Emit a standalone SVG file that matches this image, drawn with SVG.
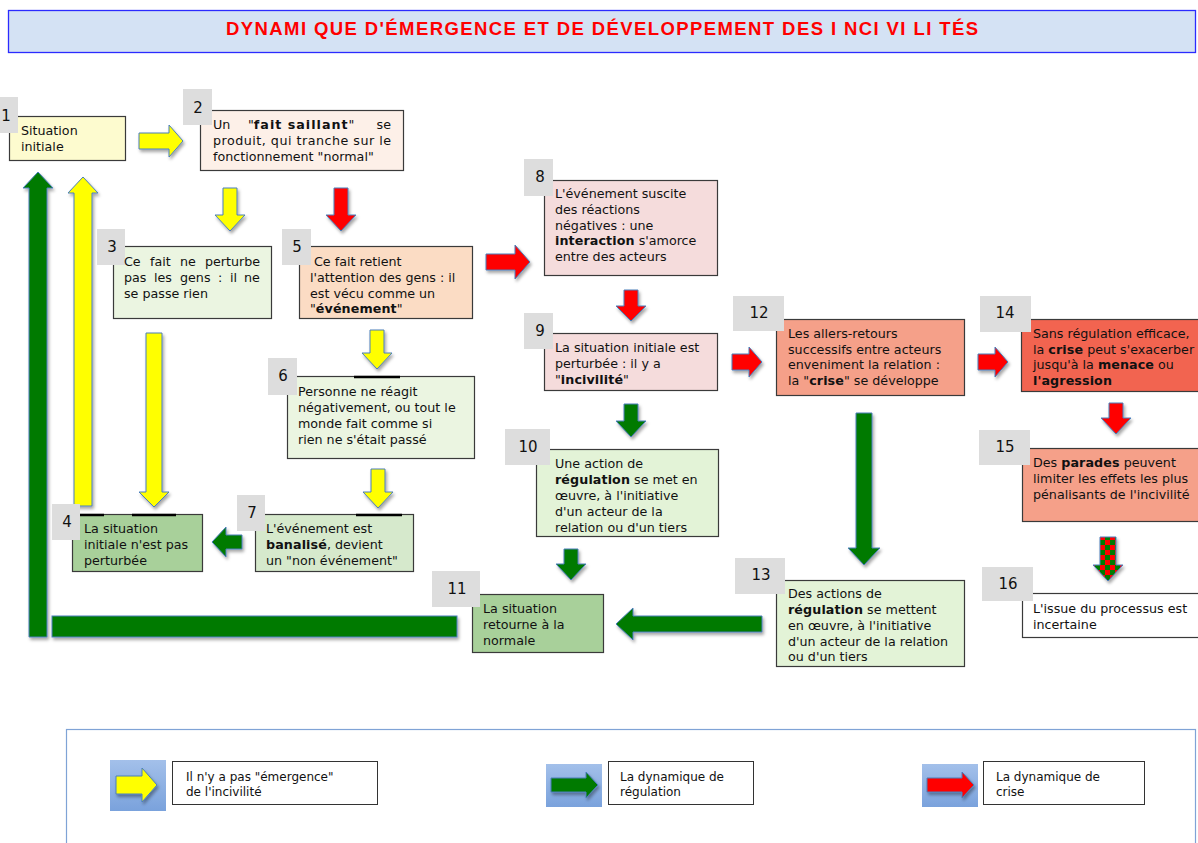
<svg xmlns="http://www.w3.org/2000/svg" width="1198" height="843" viewBox="0 0 1198 843">
<defs>
<style>
.t{font-family:"DejaVu Sans",Verdana,sans-serif;font-size:12.7px;fill:#111}
.b{font-weight:bold;letter-spacing:0.1px}
.num{font-family:"DejaVu Sans",Verdana,sans-serif;font-size:15px;fill:#111;text-anchor:middle}
.box{stroke:#3a3a3a;stroke-width:1.2}
.badge{fill:#dddddd}
.ar{stroke:#4a7ebb;stroke-width:1;filter:url(#sh)}
.y{fill:#ffff00}
.r{fill:#ff0000}
.g{fill:#007a00}
.lg{font-family:"DejaVu Sans",Verdana,sans-serif;font-size:12px;fill:#111}
</style>
<filter id="sh" x="-30%" y="-30%" width="160%" height="160%">
<feDropShadow dx="1.5" dy="2.5" stdDeviation="1.5" flood-color="#000" flood-opacity="0.35"/>
</filter>
<pattern id="chk" width="10" height="10" patternUnits="userSpaceOnUse">
<rect width="10" height="10" fill="#ff0000"/>
<rect width="5" height="5" fill="#007a00"/>
<rect x="5" y="5" width="5" height="5" fill="#007a00"/>
</pattern>
<linearGradient id="ico" x1="0" y1="0" x2="0" y2="1">
<stop offset="0" stop-color="#a3c0ea"/>
<stop offset="1" stop-color="#7aa2dc"/>
</linearGradient>
</defs>
<rect width="1198" height="843" fill="#ffffff"/>

<g id="title">
<rect x="8.5" y="10.5" width="1187" height="42" fill="#d4e2f4" stroke="#2b2bff" stroke-width="1.3"/>
<text x="226" y="35" textLength="752" lengthAdjust="spacing" style="font-family:'Liberation Sans',Arial,sans-serif;font-size:18.5px;font-weight:bold;fill:#ff0000">DYNAMI QUE D'ÉMERGENCE ET DE DÉVELOPPEMENT DES I NCI VI LI TÉS</text>
</g>

<g id="connectors">
<polygon class="ar y" points="139,133 169,133 169,125 183,141 169,157 169,149 139,149"/>
<polygon class="ar y" points="223,188 237,188 237,215 245,215 230,231 215,215 223,215"/>
<polygon class="ar r" points="334,188 348,188 348,215 356,215 341,231 326,215 334,215"/>
<polygon class="ar r" points="486,254 515,254 515,245 530,262 515,279 515,270 486,270"/>
<polygon class="ar y" points="370,330 384,330 384,353 392,353 377,369 362,353 370,353"/>
<polygon class="ar y" points="371,469 385,469 385,492 393,492 378,508 363,492 371,492"/>
<polygon class="ar r" points="624,290 638,290 638,306 646,306 631,321 616,306 624,306"/>
<polygon class="ar g" points="624,404 638,404 638,421 646,421 631,437 616,421 624,421"/>
<polygon class="ar g" points="564,549 578,549 578,564 586,564 571,580 556,564 564,564"/>
<polygon class="ar r" points="732,354 749,354 749,347 762,362 749,377 749,370 732,370"/>
<polygon class="ar r" points="978,354 995,354 995,347 1008,362 995,377 995,370 978,370"/>
<polygon class="ar r" points="1109,403 1123,403 1123,418 1131,418 1116,434 1101,418 1109,418"/>
<polygon class="ar" fill="url(#chk)" points="1100,537 1116,537 1116,565 1123,565 1108,581 1093,565 1100,565"/>
<polygon class="ar g" points="856,413 872,413 872,548 880,548 864,565 848,548 856,548"/>
<polygon class="ar g" points="616,624 633,608 633,616 762,616 762,632 633,632 633,640"/>
<polygon class="ar y" points="146,333 162,333 162,492 169,492 154,507 139,492 146,492"/>
<polygon class="ar g" points="212,542 226,527 226,535 242,535 242,549 226,549 226,557"/>
<polygon class="ar y" points="83,177 98,193 92,193 92,506 74,506 74,193 68,193"/>
<polygon class="ar g" points="38,172 53,188 47,188 47,637 29,637 29,188 23,188"/>
<rect class="ar g" x="52" y="616" width="405" height="21"/>
</g>

<g id="n1">
<rect class="box" x="9.5" y="116.5" width="116" height="44" fill="#fdfbcf"/>
<rect class="badge" x="0" y="97" width="18" height="36"/>
<text class="num" x="6" y="121">1</text>
<text class="t" x="21" y="135">Situation</text>
<text class="t" x="21" y="151">initiale</text>
</g>

<g id="n2">
<rect class="box" x="200.5" y="110.5" width="203" height="60" fill="#fdf0e8"/>
<rect class="badge" x="183" y="89" width="29" height="36"/>
<text class="num" x="198" y="113">2</text>
<text class="t" x="213" y="129">Un</text>
<text class="t" x="248" y="129">"<tspan class="b" style="letter-spacing:1px">fait saillant</tspan>"</text>
<text class="t" x="391" y="129" text-anchor="end">se</text>
<text class="t" x="213" y="145" textLength="178" lengthAdjust="spacing">produit, qui tranche sur le</text>
<text class="t" x="213" y="161">fonctionnement "normal"</text>
</g>

<g id="n3">
<rect class="box" x="113.5" y="246.5" width="158" height="72" fill="#ebf5e1"/>
<rect class="badge" x="97" y="229" width="28" height="36"/>
<text class="num" x="112" y="252">3</text>
<text class="t" y="266"><tspan x="124">Ce</tspan> <tspan x="150">fait</tspan> <tspan x="180">ne</tspan> <tspan x="205">perturbe</tspan></text>
<text class="t" y="282"><tspan x="124">pas</tspan> <tspan x="154">les</tspan> <tspan x="180">gens</tspan> <tspan x="218">:</tspan> <tspan x="230">il</tspan> <tspan x="244">ne</tspan></text>
<text class="t" x="124" y="298">se passe rien</text>
</g>

<g id="n5">
<rect class="box" x="299.5" y="246.5" width="173" height="72" fill="#fbdcc4"/>
<rect class="badge" x="282" y="229" width="29" height="36"/>
<text class="num" x="297" y="252">5</text>
<text class="t" x="314" y="266">Ce fait retient</text>
<text class="t" x="310" y="282">l'attention des gens : il</text>
<text class="t" x="310" y="298">est vécu comme un</text>
<text class="t" x="310" y="313">"<tspan class="b">événement</tspan>"</text>
</g>

<g id="n6">
<rect class="box" x="287.5" y="376.5" width="187" height="82" fill="#ebf5e1"/>
<line x1="354" y1="377" x2="400" y2="377" stroke="#000" stroke-width="2.5"/>
<rect class="badge" x="268" y="358" width="29" height="37"/>
<text class="num" x="283" y="381">6</text>
<text class="t" x="298" y="396">Personne ne réagit</text>
<text class="t" x="298" y="412">négativement, ou tout le</text>
<text class="t" x="298" y="428">monde fait comme si</text>
<text class="t" x="298" y="444">rien ne s'était passé</text>
</g>

<g id="n7">
<rect class="box" x="255.5" y="514.5" width="158" height="57" fill="#d6e9cc"/>
<line x1="356" y1="515" x2="402" y2="515" stroke="#000" stroke-width="2.5"/>
<rect class="badge" x="237" y="495" width="28" height="36"/>
<text class="num" x="252" y="518">7</text>
<text class="t" x="266" y="533">L'événement est</text>
<text class="t" x="266" y="549"><tspan class="b">banalisé</tspan>, devient</text>
<text class="t" x="266" y="565">un "non événement"</text>
</g>

<g id="n4">
<rect class="box" x="72.5" y="514.5" width="130" height="57" fill="#a8d09a"/>
<line x1="80" y1="515" x2="104" y2="515" stroke="#000" stroke-width="2.5"/>
<line x1="132" y1="515" x2="176" y2="515" stroke="#000" stroke-width="2.5"/>
<rect class="badge" x="52" y="504" width="28" height="36"/>
<text class="num" x="67" y="527">4</text>
<text class="t" x="84" y="533">La situation</text>
<text class="t" x="84" y="549">initiale n'est pas</text>
<text class="t" x="84" y="565">perturbée</text>
</g>

<g id="n8">
<rect class="box" x="544.5" y="180.5" width="173" height="95" fill="#f5dcdc"/>
<rect class="badge" x="524" y="159" width="29" height="37"/>
<text class="num" x="540" y="182">8</text>
<text class="t" x="555" y="198">L'événement suscite</text>
<text class="t" x="555" y="214">des réactions</text>
<text class="t" x="555" y="230">négatives : une</text>
<text class="t" x="555" y="245"><tspan class="b">interaction</tspan> s'amorce</text>
<text class="t" x="555" y="261">entre des acteurs</text>
</g>

<g id="n9">
<rect class="box" x="544.5" y="333.5" width="173" height="57" fill="#f5dcdc"/>
<rect class="badge" x="524" y="313" width="29" height="36"/>
<text class="num" x="540" y="336">9</text>
<text class="t" x="555" y="352">La situation initiale est</text>
<text class="t" x="555" y="368">perturbée : il y a</text>
<text class="t" x="555" y="384">"<tspan class="b">incivilité</tspan>"</text>
</g>

<g id="n10">
<rect class="box" x="536.5" y="449.5" width="182" height="87" fill="#e3f3d7"/>
<rect class="badge" x="505" y="429" width="45" height="36"/>
<text class="num" x="528" y="452">10</text>
<text class="t" x="555" y="468">Une action de</text>
<text class="t" x="555" y="484"><tspan class="b">régulation</tspan> se met en</text>
<text class="t" x="555" y="500">œuvre, à l'initiative</text>
<text class="t" x="555" y="516">d'un acteur de la</text>
<text class="t" x="555" y="532">relation ou d'un tiers</text>
</g>

<g id="n11">
<rect class="box" x="472.5" y="594.5" width="131" height="58" fill="#a8d09a"/>
<rect class="badge" x="432" y="571" width="48" height="36"/>
<text class="num" x="457" y="594">11</text>
<text class="t" x="483" y="613">La situation</text>
<text class="t" x="483" y="629">retourne à la</text>
<text class="t" x="483" y="645">normale</text>
</g>

<g id="n12">
<rect class="box" x="776.5" y="319.5" width="188" height="76" fill="#f5a089"/>
<rect class="badge" x="733" y="296" width="51" height="35"/>
<text class="num" x="759" y="318">12</text>
<text class="t" x="788" y="338">Les allers-retours</text>
<text class="t" x="788" y="354">successifs entre acteurs</text>
<text class="t" x="788" y="369">enveniment la relation :</text>
<text class="t" x="788" y="385">la "<tspan class="b">crise</tspan>" se développe</text>
</g>

<g id="n13">
<rect class="box" x="776.5" y="580.5" width="188" height="86" fill="#e3f3d7"/>
<rect class="badge" x="735" y="558" width="50" height="36"/>
<text class="num" x="761" y="580">13</text>
<text class="t" x="788" y="598">Des actions de</text>
<text class="t" x="788" y="614"><tspan class="b">régulation</tspan> se mettent</text>
<text class="t" x="788" y="630">en œuvre, à l'initiative</text>
<text class="t" x="788" y="646">d'un acteur de la relation</text>
<text class="t" x="788" y="661">ou d'un tiers</text>
</g>

<g id="n14">
<rect class="box" x="1021.5" y="319.5" width="180" height="72" fill="#f26450"/>
<rect class="badge" x="980" y="296" width="51" height="36"/>
<text class="num" x="1005" y="318">14</text>
<text class="t" x="1033" y="338">Sans régulation efficace,</text>
<text class="t" x="1033" y="354">la <tspan class="b">crise</tspan> peut s'exacerber</text>
<text class="t" x="1033" y="369">jusqu'à la <tspan class="b">menace</tspan> ou</text>
<text class="t" x="1033" y="385"><tspan class="b">l'agression</tspan></text>
</g>

<g id="n15">
<rect class="box" x="1022.5" y="448.5" width="180" height="73" fill="#f5a089"/>
<rect class="badge" x="979" y="430" width="51" height="35"/>
<text class="num" x="1005" y="452">15</text>
<text class="t" x="1033" y="467">Des <tspan class="b">parades</tspan> peuvent</text>
<text class="t" x="1033" y="483">limiter les effets les plus</text>
<text class="t" x="1033" y="499">pénalisants de l'incivilité</text>
</g>

<g id="n16">
<rect class="box" x="1022.5" y="593.5" width="180" height="44" fill="#ffffff"/>
<rect class="badge" x="982" y="567" width="51" height="34"/>
<text class="num" x="1008" y="589">16</text>
<text class="t" x="1033" y="613">L'issue du processus est</text>
<text class="t" x="1033" y="629">incertaine</text>
</g>

<g id="legend">
<rect x="66.5" y="729.5" width="1129" height="130" fill="#ffffff" stroke="#7fa3d6" stroke-width="1.2"/>
<rect x="110" y="760" width="56" height="51" fill="url(#ico)"/>
<polygon class="ar y" points="116,776 142,776 142,768 157,785 142,802 142,794 116,794"/>
<rect x="172.5" y="761.5" width="205" height="43" fill="#fff" stroke="#333" stroke-width="1"/>
<text class="lg" x="186" y="781">Il n'y a pas "émergence"</text>
<text class="lg" x="186" y="796">de l'incivilité</text>
<rect x="546" y="764" width="56" height="43" fill="url(#ico)"/>
<polygon class="ar g" points="551,778 586,778 586,772 598,785 586,798 586,792 551,792"/>
<rect x="608.5" y="761.5" width="145" height="43" fill="#fff" stroke="#333" stroke-width="1"/>
<text class="lg" x="620" y="781">La dynamique de</text>
<text class="lg" x="620" y="796">régulation</text>
<rect x="922" y="764" width="56" height="43" fill="url(#ico)"/>
<polygon class="ar r" points="927,778 962,778 962,772 974,785 962,798 962,792 927,792"/>
<rect x="983.5" y="761.5" width="161" height="43" fill="#fff" stroke="#333" stroke-width="1"/>
<text class="lg" x="996" y="781">La dynamique de</text>
<text class="lg" x="996" y="796">crise</text>
</g>
</svg>
